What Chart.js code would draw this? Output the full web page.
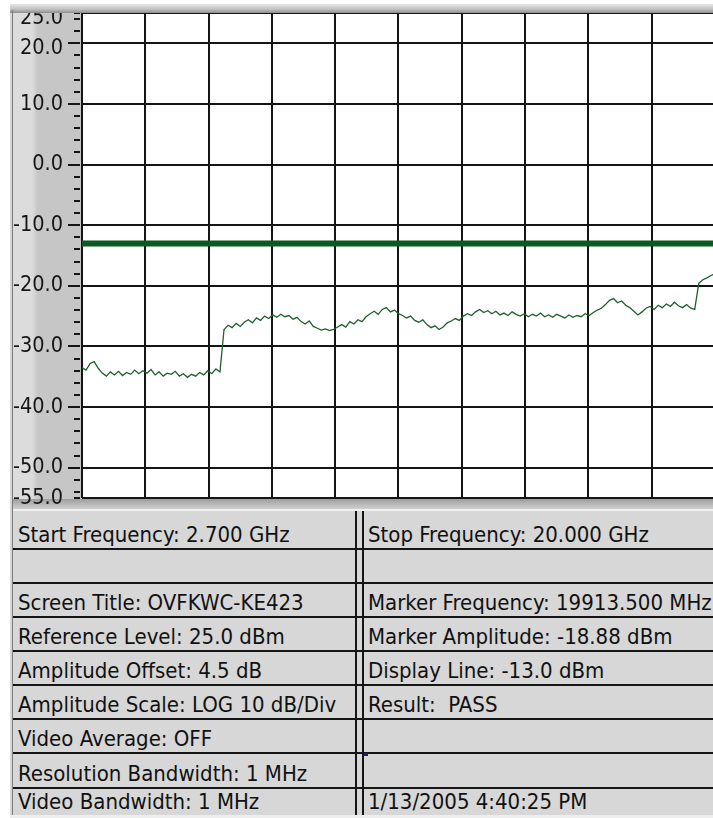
<!DOCTYPE html>
<html>
<head>
<meta charset="utf-8">
<script src="https://cdn.jsdelivr.net/npm/chart.js@4"></script>
<style>
  body { margin: 0; width: 713px; height: 818px; overflow: hidden; background: #fff; position: relative;
         font-family: "DejaVu Sans Condensed", "Liberation Sans", sans-serif; }
  .abs { position: absolute; }
  #frame { left: 10px; top: 4px; width: 720px; height: 814px; background: #d7d7d7; }
  #topbar { left: 10px; top: 4px; width: 720px; height: 9px;
            background: linear-gradient(#e6e6e6, #c4c4c4 55%, #8e8e8e); }
  #axisPanel { left: 13px; top: 12px; width: 69px; height: 488px;
               background: linear-gradient(to right, #dcdcdc 0, #dcdcdc 19px, #c6c6c6 25px, #c6c6c6 100%); }
  #leftEdge { left: 12px; top: 10px; width: 1px; height: 805px; background: #7a7a7a; }
  #botbar { left: 13px; top: 499px; width: 720px; height: 10px;
            background: linear-gradient(#9c9c9c, #bdbdbd 60%, #cfcfcf); }
  #botlight { left: 13px; top: 509px; width: 720px; height: 2px; background: #f0f0f0; }
  #plotBox { left: 13px; top: 12px; width: 707px; height: 496px; overflow: hidden; }
  .hl { left: 13px; width: 720px; height: 2px; background: #151515; }
  .vl { top: 511px; width: 2px; height: 304px; background: #151515; }
  .txt { font-size: 22px; line-height: 22px; color: #111; white-space: pre; }
  #bottomEdge { left: 10px; top: 815px; width: 720px; height: 3px; background: #eeeeee; }
</style>
</head>
<body>
<div id="frame" class="abs"></div>
<div id="axisPanel" class="abs"></div>
<div id="botbar" class="abs"></div>
<div id="botlight" class="abs"></div>
<div id="plotBox" class="abs"><canvas id="myChart" width="707" height="496"></canvas></div>
<div id="topbar" class="abs"></div>
<div id="leftEdge" class="abs"></div>
<div id="bottomEdge" class="abs"></div>
<div id="table"></div>

<script>
// sweep settings (GHz)
const freqStart = 2.7;
const freqStop = 20.0;

// trace amplitude, dBm from left to right
const amplitude = [
  -33.5, -33.9, -32.8, -32.5, -33.6, -34.4, -34.9, -34.2, -34.7, -34.1,
  -34.8, -34.3, -34.6, -33.9, -34.5, -34.0, -34.4, -33.8, -34.7, -34.2,
  -34.9, -34.4, -34.6, -34.1, -34.9, -34.5, -35.1, -34.6, -34.9, -34.3,
  -34.7, -34.0, -34.5, -33.7, -34.2, -27.2, -26.5, -26.9, -26.2, -26.7,
  -26.0, -25.6, -26.1, -25.3, -25.7, -25.0, -25.4, -24.8, -25.2, -24.7,
  -25.1, -24.9, -25.5, -25.2, -25.9, -26.3, -25.8, -26.7, -27.0, -27.3,
  -27.1, -27.4, -27.2, -26.8, -26.4, -26.8, -25.9, -26.3, -25.6, -25.9,
  -25.1, -24.6, -24.2, -24.7, -23.9, -23.6, -24.3, -24.0, -24.6, -24.9,
  -25.3, -25.0, -25.7, -26.0, -25.6, -26.4, -26.9, -26.6, -27.2, -26.8,
  -26.1, -25.8, -25.4, -25.7, -25.0, -24.6, -24.9, -24.3, -23.9, -24.4,
  -24.1, -24.6, -24.2, -24.8, -24.5, -24.9, -24.3, -24.7, -25.0, -24.6,
  -25.1, -24.7, -25.0, -24.5, -25.1, -24.8, -25.2, -24.7, -25.0, -25.3,
  -24.8, -25.2, -24.9, -25.1, -24.6, -24.9, -24.4, -24.0, -23.7, -23.1,
  -22.4, -22.1, -22.8, -22.5, -23.2, -23.6, -24.2, -24.8, -24.3, -23.7,
  -23.4, -23.9, -23.2, -23.6, -23.0, -23.4, -22.7, -23.3, -23.6, -23.1,
  -23.7, -23.9, -19.6, -19.0, -18.7, -18.3, -18.0
];

const displayLine = -13.0;

// axes
const yMin = -55;
const yMax = 25;
const yTicks = [25, 24, 22, 20, 18, 16, 14, 12, 10, 8, 6, 4, 2, 0, -2, -4, -6, -8, -10,
  -12, -14, -16, -18, -20, -22, -24, -26, -28, -30, -32, -34, -36, -38, -40,
  -42, -44, -46, -48, -50, -52, -54, -55];
const yLabels = [25, 20, 10, 0, -10, -20, -30, -40, -50, -55];
const yShifted = [25, 20];   // these two labels sit a little below their tick
const yMajor = [20, 10, 0, -10, -20, -30, -40, -50];
const xDivs = [2.7, 4.43, 6.16, 7.89, 9.62, 11.35, 13.08, 14.81, 16.54, 18.27, 20.0];

// info table
const leftCells = ['Start Frequency: 2.700 GHz', '', 'Screen Title: OVFKWC-KE423',
  'Reference Level: 25.0 dBm', 'Amplitude Offset: 4.5 dB', 'Amplitude Scale: LOG 10 dB/Div',
  'Video Average: OFF', 'Resolution Bandwidth: 1 MHz', 'Video Bandwidth: 1 MHz'];
const rightCells = ['Stop Frequency: 20.000 GHz', '', 'Marker Frequency: 19913.500 MHz',
  'Marker Amplitude: -18.88 dBm', 'Display Line: -13.0 dBm', 'Result:  PASS', '', '',
  '1/13/2005 4:40:25 PM'];

const FONT = '"DejaVu Sans Condensed", "Liberation Sans", sans-serif';

// table layout
const rowLines = [549, 583, 617, 651, 685, 719, 753, 788];
const table = document.getElementById('table');
rowLines.forEach(y => {
  const d = document.createElement('div');
  d.className = 'abs hl';
  d.style.top = (y - 1) + 'px';
  table.appendChild(d);
});
[355, 362].forEach(x => {
  const d = document.createElement('div');
  d.className = 'abs vl';
  d.style.left = x + 'px';
  table.appendChild(d);
});
const baselines = rowLines.map(y => y - 7).concat([809]);
function addText(str, x, base) {
  if (!str) return;
  const d = document.createElement('div');
  d.className = 'abs txt';
  d.style.left = x + 'px';
  d.style.top = (base - 18.5) + 'px';
  d.textContent = str;
  table.appendChild(d);
}
leftCells.forEach((s, i) => addText(s, 18, baselines[i]));
rightCells.forEach((s, i) => addText(s, 368, baselines[i]));
// little cursor mark
const mark = document.createElement('div');
mark.className = 'abs';
mark.style.cssText = 'left:364px;top:753px;width:4px;height:3px;background:#1a1a80;';
table.appendChild(mark);

const step = (freqStop - freqStart) / (amplitude.length - 1);
const trace = amplitude.map((v, i) => ({ x: freqStart + i * step, y: v }));

const whitePlot = {
  id: 'whitePlot',
  beforeDraw(chart) {
    const a = chart.chartArea;
    chart.ctx.save();
    chart.ctx.fillStyle = '#ffffff';
    chart.ctx.fillRect(a.left, a.top, a.right - a.left, a.bottom - a.top);
    chart.ctx.restore();
  },
  afterDraw(chart) {
    const y = chart.scales.y;
    const c = chart.ctx;
    c.save();
    c.strokeStyle = '#151515';
    c.lineWidth = 2;
    yTicks.forEach(v => {
      const py = Math.round(y.getPixelForValue(v));
      const len = yMajor.includes(v) ? 12 : 6;
      c.beginPath();
      c.moveTo(y.right - 2 - len, py);
      c.lineTo(y.right - 2, py);
      c.stroke();
    });
    c.restore();
  }
};

const ctx = document.getElementById('myChart');

let myChart = new Chart(ctx, {
  type: 'line',
  data: {
    datasets: [{
      label: 'Display Line',
      data: [{ x: freqStart, y: displayLine }, { x: freqStop, y: displayLine }],
      borderColor: '#0b5a1f',
      borderWidth: 6,
      pointRadius: 0
    }, {
      label: 'Trace',
      data: trace,
      borderColor: '#1f5f2b',
      borderWidth: 1.3,
      pointRadius: 0,
      tension: 0
    }]
  },
  options: {
    responsive: false,
    animation: false,
    layout: { padding: { left: 0, top: 1, right: 5, bottom: 10 } },
    plugins: { legend: { display: false }, tooltip: { enabled: false } },
    scales: {
      x: {
        type: 'linear',
        min: freqStart,
        max: freqStop,
        afterBuildTicks: s => { s.ticks = xDivs.map(v => ({ value: v })); },
        ticks: { display: false },
        border: { display: false },
        grid: { color: '#151515', lineWidth: 2, drawTicks: false }
      },
      y: {
        min: yMin,
        max: yMax,
        afterBuildTicks: s => { s.ticks = yTicks.map(v => ({ value: v })); },
        afterFit: s => { s.width = 69; s.paddingTop = 0; s.paddingBottom = 0; },
        border: { display: false },
        grid: {
          drawTicks: false,
          lineWidth: 2,
          color: c => (yMajor.includes(c.tick.value) || c.tick.value === yMin || c.tick.value === yMax)
            ? '#151515' : 'rgba(0,0,0,0)'
        },
        ticks: {
          autoSkip: false,
          padding: 19,
          color: '#161616',
          font: c => ({
            family: FONT,
            size: 21.5,
            lineHeight: (c.tick && yShifted.includes(c.tick.value)) ? '10px' : 1.2
          }),
          callback: v => {
            if (!yLabels.includes(v)) return '';
            const s = v.toFixed(1);
            return yShifted.includes(v) ? ['', s] : s;
          }
        }
      }
    }
  },
  plugins: [whitePlot]
});
</script>
</body>
</html>
